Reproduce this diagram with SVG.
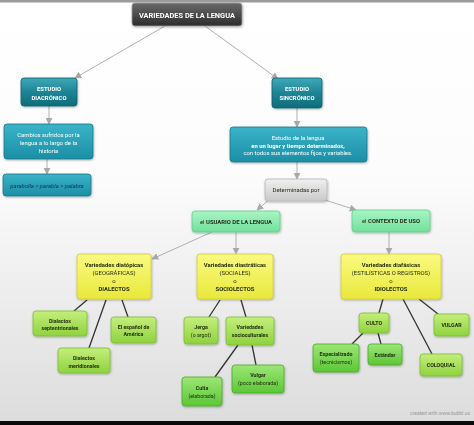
<svg xmlns="http://www.w3.org/2000/svg" width="474" height="425" viewBox="0 0 474 425">
<defs>
<linearGradient id="bg" x1="0" y1="0" x2="0" y2="1">
<stop offset="0" stop-color="#ffffff"/><stop offset="0.42" stop-color="#fcfcfc"/><stop offset="0.75" stop-color="#eaeaea"/><stop offset="1" stop-color="#dcdcdc"/>
</linearGradient>
<linearGradient id="gDark" x1="0" y1="0" x2="0" y2="1"><stop offset="0" stop-color="#6a6a6a"/><stop offset="1" stop-color="#2c2c2c"/></linearGradient>
<linearGradient id="gTeal" x1="0" y1="0" x2="0" y2="1"><stop offset="0" stop-color="#3fa8b8"/><stop offset="0.5" stop-color="#1d8595"/><stop offset="1" stop-color="#0f6c7a"/></linearGradient>
<linearGradient id="gTeal2" x1="0" y1="0" x2="0" y2="1"><stop offset="0" stop-color="#3bb3c8"/><stop offset="1" stop-color="#1b8fa5"/></linearGradient>
<linearGradient id="gGray" x1="0" y1="0" x2="0" y2="1"><stop offset="0" stop-color="#f0f0f0"/><stop offset="1" stop-color="#c9c9c9"/></linearGradient>
<linearGradient id="gMint" x1="0" y1="0" x2="0" y2="1"><stop offset="0" stop-color="#a8f5c4"/><stop offset="1" stop-color="#72e09c"/></linearGradient>
<linearGradient id="gYellow" x1="0" y1="0" x2="0" y2="1"><stop offset="0" stop-color="#fafa80"/><stop offset="1" stop-color="#e9e83c"/></linearGradient>
<linearGradient id="gLeaf" x1="0" y1="0" x2="0" y2="1"><stop offset="0" stop-color="#c4ee7c"/><stop offset="1" stop-color="#8fd23e"/></linearGradient>
<linearGradient id="gLeaf2" x1="0" y1="0" x2="0" y2="1"><stop offset="0" stop-color="#9ce676"/><stop offset="1" stop-color="#5cc736"/></linearGradient>
<filter id="sh" x="-10%" y="-10%" width="130%" height="140%"><feDropShadow dx="0.6" dy="1" stdDeviation="0.8" flood-color="#000" flood-opacity="0.3"/></filter>
<marker id="ah" viewBox="0 0 10 10" refX="9" refY="5" markerWidth="7" markerHeight="7" markerUnits="userSpaceOnUse" orient="auto"><path d="M0,0 L10,5 L0,10 z" fill="#a8a8a8"/></marker>
<style>
.n{filter:url(#sh)}
.dark{fill:url(#gDark);stroke:#9a9a9a;stroke-width:0.8}
.teal{fill:url(#gTeal);stroke:#0d5f6c;stroke-width:0.8}
.teal2{fill:url(#gTeal2);stroke:#16798c;stroke-width:0.8}
.gray{fill:url(#gGray);stroke:#b5b5b5;stroke-width:0.8}
.mint{fill:url(#gMint);stroke:#5fcf88;stroke-width:0.8}
.yel{fill:url(#gYellow);stroke:#d0cc3a;stroke-width:0.8}
.leaf{fill:url(#gLeaf);stroke:#78bf34;stroke-width:0.8}
.leaf2{fill:url(#gLeaf2);stroke:#4aab2a;stroke-width:0.8}
text{font-family:Roboto,"Liberation Sans",sans-serif;text-anchor:middle;dominant-baseline:central}
.w{fill:#ffffff}
.k{fill:#1f2a10}
.b{font-weight:bold}
.s{font-size:5.9px}
.t{font-size:5.3px}
.arr{stroke:#b0b0b0;stroke-width:1;fill:none;marker-end:url(#ah)}
.ln{stroke:#333333;stroke-width:1.3;fill:none}
</style>
</defs>
<rect x="0" y="0" width="474" height="425" fill="url(#bg)"/>
<rect x="0" y="0" width="474" height="2.5" fill="#9c9c9c"/>
<rect x="0" y="421" width="474" height="4" fill="#0a0a0a"/>
<text x="470" y="413" style="font-size:5px;text-anchor:end;fill:#9a9a9a">created with www.bubbl.us</text>

<g id="connectors">
<path class="arr" d="M165,26 L75,78"/>
<path class="arr" d="M205,26 L278,79"/>
<path class="arr" d="M49,106 L49,124"/>
<path class="arr" d="M47,159 L47,174"/>
<path class="arr" d="M297,108 L297,127"/>
<path class="arr" d="M297,162 L297,179"/>
<path class="arr" d="M270,199 L257,210"/>
<path class="arr" d="M322,199 L356,210"/>
<path class="arr" d="M212,232 L152,259"/>
<path class="arr" d="M236,232 L236,254"/>
<path class="arr" d="M389,232 L389,254"/>
<path class="ln" d="M87,300 L74,311"/>
<path class="ln" d="M106,300 L89,348"/>
<path class="ln" d="M122,300 L128,317"/>
<path class="ln" d="M220,300 L209,317"/>
<path class="ln" d="M241,300 L246,317"/>
<path class="ln" d="M238,345 L215,377"/>
<path class="ln" d="M252,345 L256,365"/>
<path class="ln" d="M383,299 L379,313"/>
<path class="ln" d="M403,299 L432,354"/>
<path class="ln" d="M419,299 L438,314"/>
<path class="ln" d="M363,333 L352,344"/>
<path class="ln" d="M378,333 L381,344"/>
</g>

<g id="n-title" class="n"><rect class="dark" x="132" y="3" width="110" height="23" rx="3"/>
<text class="w b" x="187" y="15" style="font-size:7.4px" textLength="96" lengthAdjust="spacingAndGlyphs">VARIEDADES DE LA LENGUA</text></g>

<g id="n-diacronico" class="n"><rect class="teal" x="21" y="78" width="56" height="28" rx="3"/>
<text class="w b s" x="49" y="89">ESTUDIO</text><text class="w b s" x="49" y="97.5">DIACRÓNICO</text></g>

<g id="n-sincronico" class="n"><rect class="teal" x="272" y="78" width="50" height="30" rx="3"/>
<text class="w b s" x="297" y="89">ESTUDIO</text><text class="w b s" x="297" y="97.5">SINCRÓNICO</text></g>

<g id="n-cambios" class="n"><rect class="teal2" x="4" y="124" width="89" height="35" rx="3"/>
<text class="w s" x="48.5" y="134.5">Cambios sufridos por la</text><text class="w s" x="48.5" y="142.5">lengua a lo largo de la</text><text class="w s" x="48.5" y="150.5">historia</text></g>

<g id="n-parabolla" class="n"><rect class="teal2" x="3" y="174" width="88" height="22" rx="3"/>
<text class="s" x="47" y="185.5" style="font-style:italic;fill:#14305a">parabolla &gt; parabla &gt; palabra</text></g>

<g id="n-estudio" class="n"><rect class="teal2" x="230" y="127" width="137" height="35" rx="3"/>
<text class="w s" x="298" y="137.5">Estudio de la lengua</text><text class="w b s" x="298" y="145.5">en un lugar y tiempo determinados,</text><text class="w s" x="298" y="153">con todos sus elementos fijos y variables.</text></g>

<g id="n-determinadas" class="n"><rect class="gray" x="265" y="179" width="62" height="22" rx="3"/>
<text class="k s" x="296" y="190">Determinadas por</text></g>

<g id="n-usuario" class="n"><rect class="mint" x="192" y="211" width="88" height="21" rx="3"/>
<text class="k s" x="236" y="221.5">el <tspan class="b">USUARIO DE LA LENGUA</tspan></text></g>

<g id="n-contexto" class="n"><rect class="mint" x="352" y="210" width="78" height="22" rx="3"/>
<text class="k s" x="391" y="221">el <tspan class="b">CONTEXTO DE USO</tspan></text></g>

<g id="n-diatopicas" class="n"><rect class="yel" x="77" y="254" width="74" height="45" rx="3"/>
<text class="k b s" x="114" y="265">Variedades diatópicas</text><text class="k s" x="114" y="273">(GEOGRÁFICAS)</text><text class="k s" x="114" y="281">o</text><text class="k b s" x="114" y="289">DIALECTOS</text></g>

<g id="n-diastraticas" class="n"><rect class="yel" x="197" y="254" width="76" height="45" rx="3"/>
<text class="k b s" x="235" y="265">Variedades diastráticas</text><text class="k s" x="235" y="273">(SOCIALES)</text><text class="k s" x="235" y="281">o</text><text class="k b s" x="235" y="289">SOCIOLECTOS</text></g>

<g id="n-diafasicas" class="n"><rect class="yel" x="341" y="254" width="100" height="45" rx="3"/>
<text class="k b s" x="391" y="265">Variedades diafásicas</text><text class="k s" x="391" y="273">(ESTILÍSTICAS O REGISTROS)</text><text class="k s" x="391" y="281">o</text><text class="k b s" x="391" y="289">IDIOLECTOS</text></g>

<g id="n-septentrionales" class="n"><rect class="leaf" x="33" y="311" width="54" height="25" rx="3"/>
<text class="k b t" x="60" y="320.5">Dialectos</text><text class="k b t" x="60" y="328">septentrionales</text></g>

<g id="n-espanol" class="n"><rect class="leaf" x="111" y="317" width="45" height="26" rx="3"/>
<text class="k b t" x="133.5" y="326.5">El español de</text><text class="k b t" x="133.5" y="334">América</text></g>

<g id="n-meridionales" class="n"><rect class="leaf" x="58" y="348" width="52" height="25" rx="3"/>
<text class="k b t" x="84" y="358">Dialectos</text><text class="k b t" x="84" y="365.5">meridionales</text></g>

<g id="n-jerga" class="n"><rect class="leaf" x="184" y="317" width="34" height="27" rx="3"/>
<text class="k b t" x="201" y="327">Jerga</text><text class="k t" x="201" y="334.5">(o argot)</text></g>

<g id="n-socioculturales" class="n"><rect class="leaf" x="226" y="317" width="48" height="28" rx="3"/>
<text class="k b t" x="250" y="327">Variedades</text><text class="k b t" x="250" y="334.5">socioculturales</text></g>

<g id="n-culta" class="n"><rect class="leaf2" x="182" y="377" width="40" height="29" rx="3"/>
<text class="k b t" x="202" y="388">Culta</text><text class="k t" x="202" y="396">(elaborada)</text></g>

<g id="n-vulgar-soc" class="n"><rect class="leaf2" x="232" y="365" width="52" height="28" rx="3"/>
<text class="k b t" x="258" y="375">Vulgar</text><text class="k t" x="258" y="382.5">(poco elaborada)</text></g>

<g id="n-culto" class="n"><rect class="leaf" x="359" y="313" width="30" height="20" rx="3"/>
<text class="k b t" x="374" y="323">CULTO</text></g>

<g id="n-vulgar" class="n"><rect class="leaf" x="434" y="314" width="35" height="22" rx="3"/>
<text class="k b t" x="451.5" y="325">VULGAR</text></g>

<g id="n-especializado" class="n"><rect class="leaf2" x="313" y="344" width="46" height="28" rx="3"/>
<text class="k b t" x="336" y="353.5">Especializado</text><text class="k t" x="336" y="361.5">(tecnicismos)</text></g>

<g id="n-estandar" class="n"><rect class="leaf2" x="368" y="344" width="34" height="21" rx="3"/>
<text class="k b t" x="385" y="354.5">Estándar</text></g>

<g id="n-coloquial" class="n"><rect class="leaf" x="420" y="354" width="42" height="22" rx="3"/>
<text class="k b t" x="441" y="365">COLOQUIAL</text></g>
</svg>
